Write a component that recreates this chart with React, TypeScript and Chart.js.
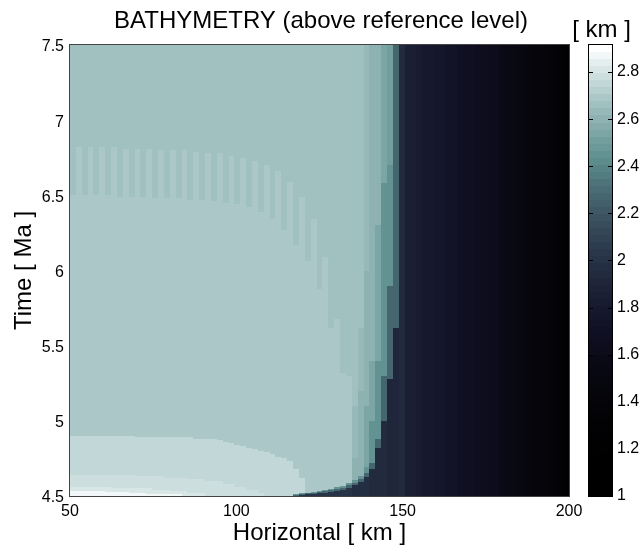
import { useEffect, useRef } from "react";
import { Chart, registerables } from "chart.js";

Chart.register(...registerables);

// ---------- axes / ranges ----------
const X_MIN = 50;
const X_MAX = 200;
const T_MIN = 4.5;
const T_MAX = 7.5;
const C_MIN = 1.0;
const C_MAX = 2.915;
const N_COLS = 85; // model columns between 50 and 200 km
const N_COLORS = 64;
const GAMMA = 2.4;

const xTicks = [50, 100, 150, 200];
const yTicks = [4.5, 5, 5.5, 6, 6.5, 7, 7.5];
const cTicks = [1, 1.2, 1.4, 1.6, 1.8, 2, 2.2, 2.4, 2.6, 2.8];

// ---------- values (km) ----------
const SHELF_VALUE = 2.66; // upper shelf (columns 0-49)
const LIGHTER_VALUE = 2.69; // lower shelf
const RIM_VALUE = 2.27; // teal rim of the slope
const RIM2_VALUE = 2.45;
const LEVEL4 = 2.54;
const LEVEL3 = 2.6;
const LEVEL2 = 2.63;

// shelf edge columns 50-55 (top values)
const shelfEdgeTop = [2.63, 2.6, 2.6, 2.54, 2.51, 2.27];
// basin columns 56-84
const basinValues = [
  1.93, 1.86, 1.84, 1.82, 1.8, 1.78, 1.77, 1.75, 1.73, 1.72,
  1.7, 1.68, 1.67, 1.65, 1.63, 1.62, 1.6, 1.58, 1.56, 1.55,
  1.52, 1.5, 1.47, 1.44, 1.42, 1.4, 1.37, 1.33, 1.28,
];

// time (Ma) up to which the lower (lighter) shelf reaches, columns 0-49
const lighterEdge = [
  6.5, 6.82, 6.5, 6.82, 6.5, 6.82, 6.5, 6.82, 6.49, 6.81,
  6.49, 6.81, 6.49, 6.81, 6.48, 6.8, 6.48, 6.8, 6.48, 6.8,
  6.47, 6.79, 6.47, 6.78, 6.46, 6.78, 6.45, 6.76, 6.44, 6.75,
  6.42, 6.73, 6.39, 6.7, 6.34, 6.66, 6.27, 6.59, 6.17, 6.49,
  6.06, 6.34, 5.88, 6.09, 5.62, 5.68, 5.32, 5.3, 4.5, 4.5,
];

// near-bottom bands (innermost first): values and upper edges per column from 0
const bandValues = [2.87, 2.81, 2.78, 2.75];
const bandDEdge = [4.53, 4.53, 4.53, 4.53, 4.53, 4.53, 4.525, 4.525, 4.525, 4.525, 4.52, 4.52, 4.52, 4.515, 4.515, 4.515, 4.51, 4.51, 4.51];
const bandCEdge = [4.56, 4.56, 4.56, 4.56, 4.56, 4.56, 4.56, 4.555, 4.555, 4.555, 4.555, 4.55, 4.55, 4.55, 4.54, 4.54, 4.54, 4.53, 4.53, 4.53, 4.52, 4.52, 4.52];
const bandBEdge = [
  4.64, 4.64, 4.64, 4.64, 4.64, 4.64, 4.64, 4.64, 4.64, 4.64, 4.64,
  4.63, 4.63, 4.63, 4.63, 4.63, 4.62, 4.62, 4.62, 4.62, 4.61, 4.61, 4.61,
  4.6, 4.6, 4.6, 4.58, 4.58, 4.56, 4.56, 4.54, 4.54, 4.52,
];
const bandAEdge = [
  4.9, 4.9, 4.9, 4.9, 4.9, 4.9, 4.9, 4.9, 4.9, 4.9, 4.9,
  4.89, 4.89, 4.89, 4.89, 4.89, 4.89, 4.89, 4.89, 4.89, 4.89,
  4.88, 4.88, 4.88, 4.88, 4.87, 4.86, 4.85, 4.84, 4.83, 4.82,
  4.81, 4.8, 4.79, 4.78, 4.76, 4.75, 4.73, 4.68, 4.62,
];

// lower slope (columns 38-55)
const CURVE_FIRST_COL = 38;
const curveDarkEdge = [4.503, 4.506, 4.51, 4.514, 4.518, 4.523, 4.528, 4.535, 4.543, 4.555, 4.57, 4.59, 4.625, 4.68, 4.82, 5.0, 5.28, 5.62];
const curveDarkValue = [2.0, 2.0, 2.0, 2.0, 2.0, 2.0, 2.0, 2.0, 2.0, 1.99, 1.98, 1.97, 1.96, 1.95, 1.94, 1.93, 1.92, 1.92];
const curveRimEdge = [4.508, 4.512, 4.517, 4.522, 4.527, 4.533, 4.539, 4.547, 4.556, 4.57, 4.588, 4.612, 4.655, 4.72, 4.88, 5.3, 5.9, 7.5];
const curveRim2Edge = [4.512, 4.517, 4.523, 4.529, 4.535, 4.542, 4.549, 4.558, 4.568, 4.584, 4.605, 4.635, 4.69, 5.0, 5.4, 6.58, 6.7, 7.5];
const level4Edge = [4.5, 4.5, 4.5, 4.5, 4.5, 4.5, 4.5, 4.5, 4.5, 4.5, 4.5, 4.5, 5.1, 5.4, 6.3, 4.5, 4.5, 4.5];
const level3Edge = [4.5, 4.5, 4.5, 4.5, 4.5, 4.5, 4.5, 4.5, 4.5, 4.5, 4.75, 5.2, 6.0, 4.5, 4.5, 4.5, 4.5, 4.5];
const level2Edge = [4.5, 4.5, 4.5, 4.5, 4.5, 4.5, 4.5, 4.5, 4.5, 4.5, 5.1, 5.62, 4.5, 4.5, 4.5, 4.5, 4.5, 4.5];

// ---------- colour map (bone, darkened) ----------
function boneColor(i: number): string {
  const m = N_COLORS;
  const t = i / (m - 1);
  const n = Math.floor((3 / 8) * m);
  const r = i < n ? (i + 1) / n : 1;
  const g = i < n ? 0 : i < 2 * n ? (i - n + 1) / n : 1;
  const b = i < 2 * n ? 0 : (i - 2 * n + 1) / (m - 2 * n);
  const rgb = [(7 * t + b) / 8, (7 * t + g) / 8, (7 * t + r) / 8].map((v) =>
    Math.round(255 * Math.pow(v, GAMMA))
  );
  return `rgb(${rgb[0]},${rgb[1]},${rgb[2]})`;
}
const palette = Array.from({ length: N_COLORS }, (_, i) => boneColor(i));
function colorFor(v: number): string {
  const idx = Math.floor(((v - C_MIN) / (C_MAX - C_MIN)) * N_COLORS);
  return palette[Math.max(0, Math.min(N_COLORS - 1, idx))];
}

function topValue(c: number): number {
  if (c < 50) return SHELF_VALUE;
  if (c < 56) return shelfEdgeTop[c - 50];
  return basinValues[c - 56];
}

function columnLayers(c: number): [number, number][] {
  const layers: [number, number][] = [];
  const k = c - CURVE_FIRST_COL;
  if (k >= 0 && k < curveDarkEdge.length) {
    layers.push([curveDarkEdge[k], curveDarkValue[k]]);
    layers.push([curveRimEdge[k], RIM_VALUE]);
    layers.push([curveRim2Edge[k], RIM2_VALUE]);
    layers.push([level4Edge[k], LEVEL4]);
    layers.push([level3Edge[k], LEVEL3]);
    layers.push([level2Edge[k], LEVEL2]);
  }
  if (c < bandDEdge.length) layers.push([bandDEdge[c], bandValues[0]]);
  if (c < bandCEdge.length) layers.push([bandCEdge[c], bandValues[1]]);
  if (c < bandBEdge.length) layers.push([bandBEdge[c], bandValues[2]]);
  if (c < bandAEdge.length) layers.push([bandAEdge[c], bandValues[3]]);
  if (c < lighterEdge.length) layers.push([lighterEdge[c], LIGHTER_VALUE]);
  layers.push([T_MAX, topValue(c)]);
  return layers;
}

type Cell = { x: number; y: number; x0: number; x1: number; t0: number; t1: number; v: number };

function buildCells(): Cell[] {
  const cells: Cell[] = [];
  const dx = (X_MAX - X_MIN) / N_COLS;
  for (let c = 0; c < N_COLS; c++) {
    const x0 = X_MIN + c * dx;
    const x1 = x0 + dx;
    let t = T_MIN;
    for (const [edge, v] of columnLayers(c)) {
      if (t >= T_MAX) break;
      if (edge > t) {
        const t1 = Math.min(edge, T_MAX);
        cells.push({ x: (x0 + x1) / 2, y: (t + t1) / 2, x0, x1, t0: t, t1, v });
        t = t1;
      }
    }
  }
  return cells;
}

const FONT = "'Liberation Sans', Arial, Helvetica, sans-serif";

const heatmapPlugin = {
  id: "heatmap",
  beforeDatasetsDraw(chart: any) {
    const { ctx, chartArea: a, scales } = chart;
    const xs = scales.x;
    const ys = scales.y;
    const cs = scales.cb;
    const cells = chart.data.datasets[0].data as Cell[];
    ctx.save();
    ctx.beginPath();
    ctx.rect(a.left, a.top, a.right - a.left, a.bottom - a.top);
    ctx.clip();
    for (const cell of cells) {
      const xl = Math.round(xs.getPixelForValue(cell.x0));
      const xr = Math.round(xs.getPixelForValue(cell.x1));
      const yt = Math.round(ys.getPixelForValue(cell.t1));
      const yb = Math.round(ys.getPixelForValue(cell.t0));
      if (xr > xl && yb > yt) {
        ctx.fillStyle = colorFor(cell.v);
        ctx.fillRect(xl, yt, xr - xl, yb - yt);
      }
    }
    ctx.restore();

    ctx.save();
    ctx.strokeStyle = "#444";
    ctx.lineWidth = 1;
    const L = Math.round(a.left), T = Math.round(a.top), R = Math.round(a.right), B = Math.round(a.bottom);
    ctx.strokeRect(L - 0.5, T - 0.5, R - L + 1, B - T + 1);

    // colour bar
    const cbL = Math.round(cs.left) + 20;
    const cbW = 23;
    const step = (C_MAX - C_MIN) / N_COLORS;
    for (let i = 0; i < N_COLORS; i++) {
      const yTop = Math.round(cs.getPixelForValue(C_MIN + (i + 1) * step));
      const yBot = Math.round(cs.getPixelForValue(C_MIN + i * step));
      ctx.fillStyle = palette[i];
      ctx.fillRect(cbL, yTop, cbW, yBot - yTop);
    }
    ctx.strokeStyle = "#000";
    ctx.beginPath();
    for (const v of cTicks) {
      const y = Math.round(cs.getPixelForValue(v)) + 0.5;
      ctx.moveTo(cbL, y);
      ctx.lineTo(cbL + 4, y);
      ctx.moveTo(cbL + cbW - 4, y);
      ctx.lineTo(cbL + cbW, y);
    }
    ctx.stroke();
    const cTop = Math.round(cs.getPixelForValue(C_MAX));
    const cBot = Math.round(cs.getPixelForValue(C_MIN));
    ctx.strokeRect(cbL - 0.5, cTop - 0.5, cbW + 1, cBot - cTop + 1);

    ctx.fillStyle = "#000";
    ctx.font = `24px ${FONT}`;
    ctx.textAlign = "center";
    ctx.textBaseline = "alphabetic";
    ctx.fillText("[ km ]", cbL + cbW / 2 + 1, 37);
    ctx.restore();
  },
};

export default function App() {
  const ref = useRef<HTMLCanvasElement>(null);
  useEffect(() => {
    if (!ref.current) return;
    Chart.defaults.font.family = FONT;
    Chart.defaults.color = "#000";
    const cells = buildCells();
    const chart = new Chart(ref.current, {
      type: "scatter",
      data: {
        datasets: [
          {
            data: cells as any,
            pointRadius: 0,
            pointHoverRadius: 0,
            showLine: false,
          },
        ],
      },
      options: {
        animation: false,
        responsive: false,
        events: [],
        layout: { padding: 0 },
        plugins: {
          legend: { display: false },
          tooltip: { enabled: false },
          title: {
            display: true,
            text: "BATHYMETRY (above reference level)",
            color: "#000",
            font: { size: 24, weight: "normal" as any, family: FONT },
            padding: { top: 7, bottom: 9.2 },
          },
        },
        scales: {
          x: {
            type: "linear",
            position: "bottom",
            min: X_MIN,
            max: X_MAX,
            afterBuildTicks: (s: any) => {
              s.ticks = xTicks.map((value) => ({ value }));
            },
            ticks: {
              color: "#000",
              font: { size: 16 },
              padding: 6,
              maxRotation: 0,
              autoSkip: false,
              callback: (v: any) => String(v),
            },
            grid: { display: false, drawTicks: false },
            border: { display: false },
            title: {
              display: true,
              text: "Horizontal [ km ]",
              color: "#000",
              font: { size: 24 },
              padding: { top: 0, bottom: 2.6 },
            },
            afterFit: (s: any) => {
              s.height = 54;
              s.paddingLeft = 0;
              s.paddingRight = 0;
            },
          },
          y: {
            type: "linear",
            position: "left",
            min: T_MIN,
            max: T_MAX,
            afterBuildTicks: (s: any) => {
              s.ticks = yTicks.map((value) => ({ value }));
            },
            ticks: {
              color: "#000",
              font: { size: 16 },
              padding: 6,
              labelOffset: 2,
              autoSkip: false,
              callback: (v: any) => String(v),
            },
            grid: { display: false, drawTicks: false },
            border: { display: false },
            title: {
              display: true,
              text: "Time [ Ma ]",
              color: "#000",
              font: { size: 24 },
              padding: { top: 9.6, bottom: 0 },
            },
            afterFit: (s: any) => {
              s.width = 70;
              s.paddingTop = 0;
              s.paddingBottom = 0;
            },
          },
          cb: {
            type: "linear",
            axis: "y",
            position: "right",
            min: C_MIN,
            max: C_MAX,
            afterBuildTicks: (s: any) => {
              s.ticks = cTicks.map((value) => ({ value }));
            },
            ticks: {
              color: "#000",
              font: { size: 16 },
              padding: 48,
              autoSkip: false,
              callback: (v: any) => String(v),
            },
            grid: { display: false, drawTicks: false },
            border: { display: false },
            afterFit: (s: any) => {
              s.width = 73;
              s.paddingTop = 0;
              s.paddingBottom = 0;
            },
          },
        } as any,
      },
      plugins: [heatmapPlugin],
    });
    return () => chart.destroy();
  }, []);
  return (
    <div style={{ position: "absolute", left: 0, top: 0, width: 642, height: 550, background: "#fff" }}>
      <canvas ref={ref} width={642} height={550} style={{ width: 642, height: 550, display: "block" }} />
    </div>
  );
}
